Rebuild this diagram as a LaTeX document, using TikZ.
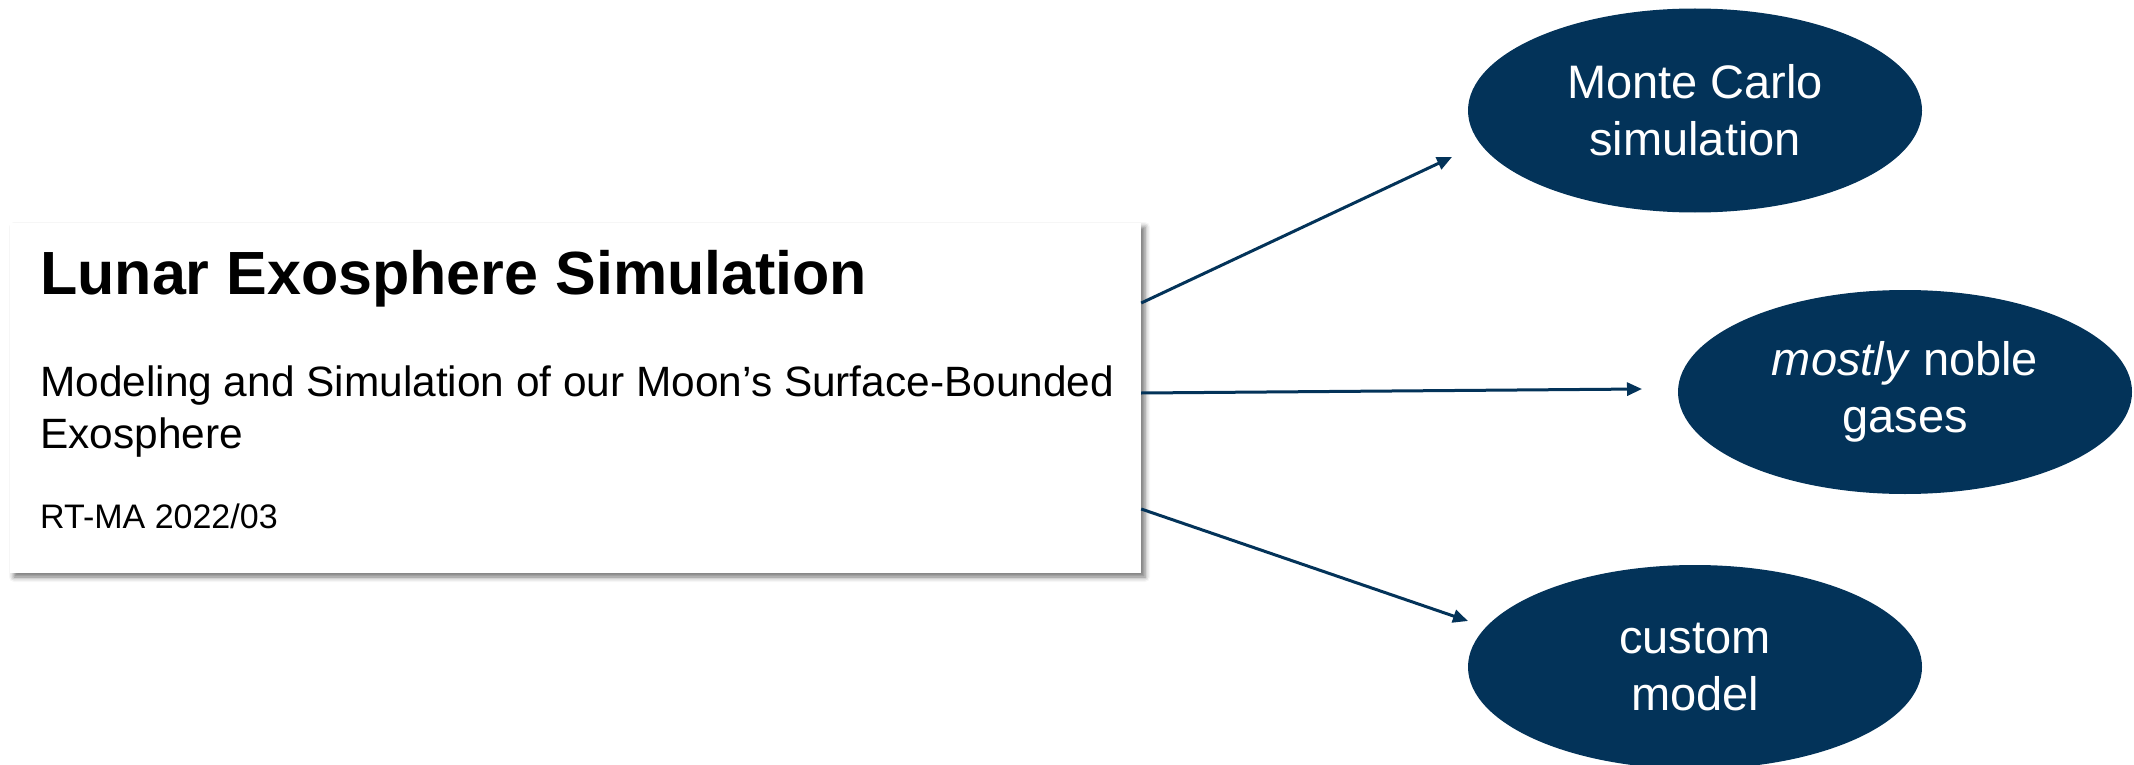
\documentclass[tikz,border=0pt]{standalone}
\usepackage{fontspec}
\setmainfont{Liberation Sans}
\usetikzlibrary{shapes.geometric,arrows.meta,shadows.blur}
\definecolor{navy}{RGB}{3,51,89}
\tikzset{
  bubble/.style={ellipse, fill=navy, text=white, inner sep=0pt,
    minimum width=454pt, minimum height=204pt, align=center,
    font=\fontsize{47}{57}\selectfont},
  link/.style={draw=navy, line width=3pt, -{Triangle[length=15pt,width=13pt]}},
  cardbox/.style={rectangle, fill=white, inner sep=0pt,
    minimum width=1131pt, minimum height=350pt,
    blur shadow={shadow xshift=4pt, shadow yshift=-4pt, shadow blur radius=5pt, shadow opacity=55}},
}
\begin{document}
\begin{tikzpicture}[x=1pt,y=-1pt]
\useasboundingbox (0,0) rectangle (2134,765);
\node[cardbox] (box) at (575.5,398) {};
\node[anchor=base west, inner sep=0pt, font=\fontsize{61}{70}\selectfont\bfseries] (title) at (40,294) {Lunar Exosphere Simulation};
\node[anchor=base west, inner sep=0pt, font=\fontsize{42.4}{52}\selectfont] (sub1) at (40,396) {Modeling and Simulation of our Moon’s Surface-Bounded};
\node[anchor=base west, inner sep=0pt, font=\fontsize{42.4}{52}\selectfont] (sub2) at (40,448) {Exosphere};
\node[anchor=base west, inner sep=0pt, font=\fontsize{34}{40}\selectfont] (code) at (40,528) {RT-MA 2022/03};

\node[bubble] (mc) at (1695,110.5) {Monte Carlo\\simulation};
\node[bubble] (ng) at (1905,392) {\textit{mostly} noble\\gases};
\node[bubble] (cm) at (1695,667) {custom\\model};

\coordinate (t1) at (1452,157);
\coordinate (t2) at (1642,389);
\coordinate (t3) at (1468,621);
\draw[link] ([yshift=95pt]box.east) -- (t1);
\draw[link] ([yshift=5pt]box.east) -- (t2);
\draw[link] ([yshift=-111pt]box.east) -- (t3);
\end{tikzpicture}
\end{document}
